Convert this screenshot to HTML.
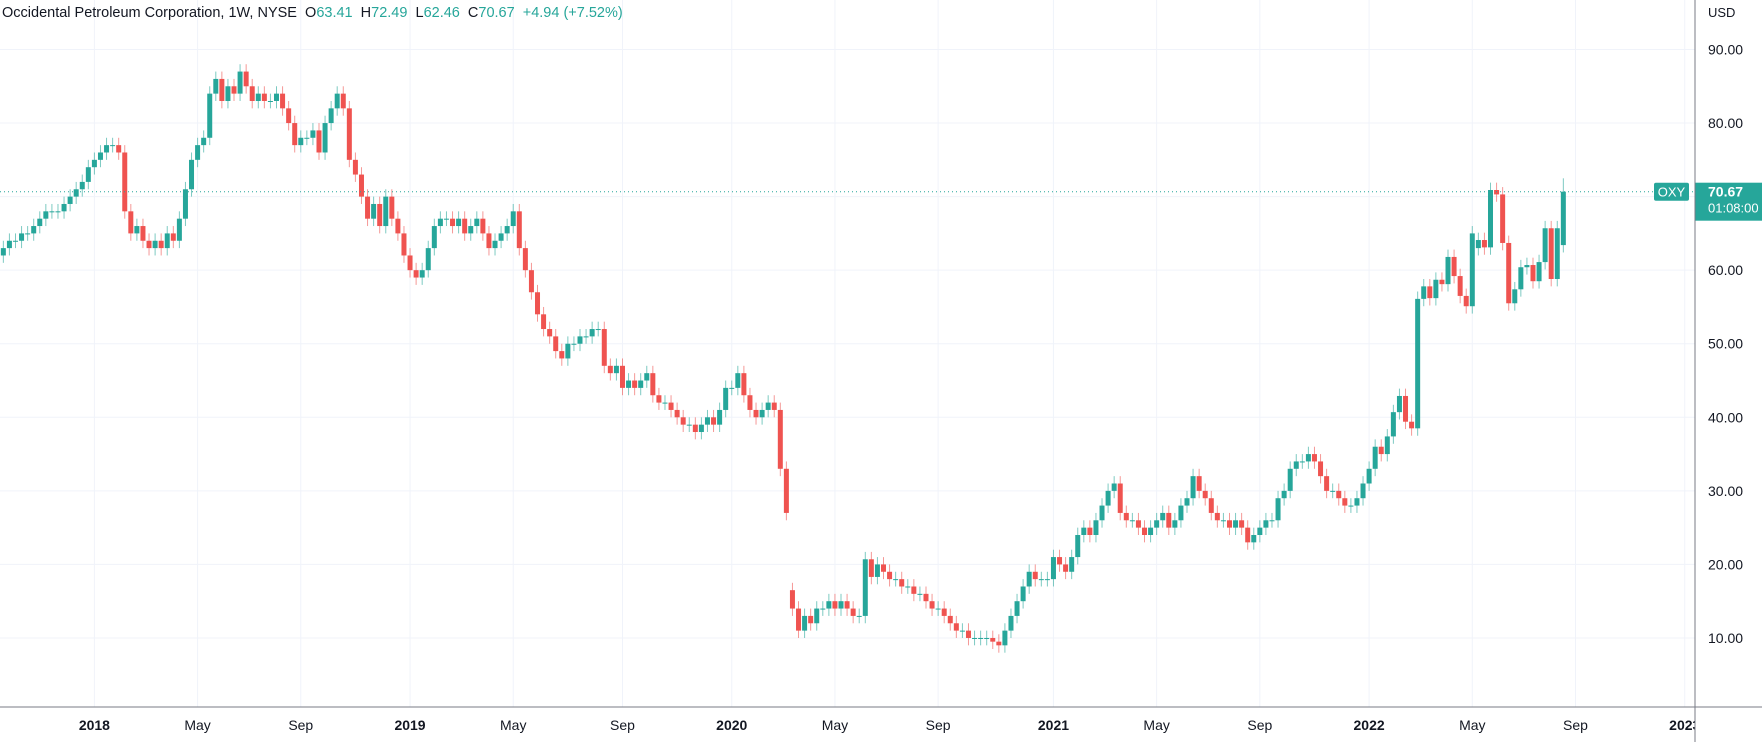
<!DOCTYPE html>
<html><head><meta charset="utf-8"><style>
html,body{margin:0;padding:0;background:#fff;}
body{width:1762px;height:742px;overflow:hidden;position:relative;font-family:"Liberation Sans","DejaVu Sans",sans-serif;}
#title{position:absolute;left:2px;top:5px;font-size:14.5px;color:#131722;white-space:nowrap;}
#title .v{color:#26a69a;}
</style></head><body>
<svg id="chart" width="1762" height="742" style="position:absolute;left:0;top:0"><defs><clipPath id="plotclip"><rect x="0" y="0" width="1695" height="742"/></clipPath></defs></svg>
<div id="title">Occidental Petroleum Corporation, 1W, NYSE&nbsp; O<span class="v">63.41</span>&nbsp; H<span class="v">72.49</span>&nbsp; L<span class="v">62.46</span>&nbsp; C<span class="v">70.67</span>&nbsp; <span class="v">+4.94 (+7.52%)</span></div>
<script>
const closes2017=[62,63,64,64,65,65,66,67,68,68,68,69,70,71,72,74];
const closes2018=[75,76,77,77,76,68,65,66,64,63,64,63,65,64,67,71,75,77,78,84,86,83,85,84,87,85,83,84,83,83,84,82,80,77,78,78,79,76,80,82,84,82,75,73,70,67,69,66,70,67,65,62];
const closes2019=[60,59,60,63,66,67,67,66,67,65,66,67,65,63,64,65,66,68,63,60,57,54,52,51,49,48,50,50,51,51,52,52,47,46,47,44,45,44,45,46,43,42,42,41,40,39,39,38,39,40,39,41,44];
const closes2020=[44,46,43,41,40,41,42,41,33,27,14,11,13,12,14,14,15,14,15,14,13,13,20.7,18.3,20,19,18,18,17,17,16,16,15,14,14,13,12,11,11,10,10,10,10,9.5,9,11,13,15,17,19,18,18,18];
const closes2021=[21,20,19,21,24,25,24,26,28,30,31,27,26,26,25,24,25,26,27,25,26,28,29,32,30,29,27,26,26,25,26,25,23,24,25,26,26,29,30,33,34,34,35,34,32,30,30,29,28,28,29,31];
const closes2022=[33,36,35,37.4,40.7,42.9,39.4,38.5,56.1,57.8,56.2,58.7,58.1,61.8,59.2,56.5,55.1,65,64.1,63.1,70.9,70.3,63.7,55.5,57.4,60.4,60.7,58.5,61.1,65.7,58.8,65.7,70.67];
const openOverrides={131:16.5,244:63,258:63.41};
const highOverrides={258:72.49};
const priceTicks=[10,20,30,40,50,60,70,80,90];
const timeLabels=["Sep","2018","May","Sep","2019","May","Sep","2020","May","Sep","2021","May","Sep","2022","May","Sep","2023"];
const timeWeeks=[-2,16,33,50,68,85,103,121,138,155,174,191,208,226,243,260,278];
const closes=[].concat(closes2017,closes2018,closes2019,closes2020,closes2021,closes2022);

const NS="http://www.w3.org/2000/svg";
const svg=document.getElementById('chart');
const AX=1695, AY=707;
function py(p){return 49.5+(90-p)*7.356;}
function px(i){return 94.4+(i-16)*6.07;}
function mk(tag,attrs,parent){const e=document.createElementNS(NS,tag);for(const k in attrs)e.setAttribute(k,attrs[k]);(parent||svg).appendChild(e);return e;}

const grid=mk('g',{});


const tl=mk('g',{'clip-path':'url(#plotclip)'});


priceTicks.forEach(p=>{
  const l=mk('line',{x1:0,x2:AX,y1:py(p),y2:py(p),stroke:'#f0f3fa','stroke-width':1},grid);
  
  
  const t=mk('text',{x:1708,y:py(p)+5,'font-size':14,fill:'#131722'});
  t.textContent=p.toFixed(2);
  
  
});
timeLabels.forEach((lab,k)=>{
  const x=px(timeWeeks[k]);
  const l=mk('line',{x1:x,x2:x,y1:0,y2:AY,stroke:'#f0f3fa','stroke-width':1},grid);
  
  
  const bold=/^\d+$/.test(lab);
  const t=mk('text',{x:x,y:730,'font-size':14,fill:'#131722','text-anchor':'middle','font-weight':bold?'bold':'normal'},tl);
  t.textContent=lab;
  
  
});
const usd=mk('text',{x:1708,y:17,'font-size':13,fill:'#131722'});
usd.textContent='USD';



const candles=mk('g',{});


closes.forEach((c,i)=>{
  const o=(i in openOverrides)?openOverrides[i]:(i>0?closes[i-1]:c-1);
  const up=c>=o;
  const col=up?'#26a69a':'#ef5350';
  const hi=(i in highOverrides)?highOverrides[i]:Math.max(o,c)+1;
  const lo=Math.min(o,c)-1;
  const x=px(i);
  const w=mk('line',{x1:x,x2:x,y1:py(hi),y2:py(lo),stroke:col,'stroke-opacity':0.6,'stroke-width':1},candles);
  
  
  const top=py(Math.max(o,c)),bot=py(Math.min(o,c));
  const b=mk('rect',{x:x-2.5,y:top,width:5,height:Math.max(1,bot-top),fill:col},candles);
  
  
});

const last=closes[closes.length-1];
const ly=py(last);
const pl=mk('line',{x1:0,x2:AX,y1:ly,y2:ly,stroke:'#26a69a','stroke-width':1,'stroke-dasharray':'1,3'});


const ob=mk('rect',{x:1654,y:ly-9,width:35,height:18,rx:2,fill:'#26a69a'});


const ot=mk('text',{x:1671.5,y:ly+5,'font-size':13,fill:'#fff','text-anchor':'middle'});
ot.textContent='OXY';


const pb=mk('rect',{x:AX,y:ly-9,width:67,height:38,fill:'#26a69a'});


const pt=mk('text',{x:1708,y:ly+5,'font-size':14,'font-weight':'bold',fill:'#fff'});
pt.textContent=last.toFixed(2);


const ct=mk('text',{x:1708,y:ly+21,'font-size':13,fill:'#fff'});
ct.textContent='01:08:00';



const a1=mk('line',{x1:AX,x2:AX,y1:0,y2:742,stroke:'#787b86','stroke-width':1});


const a2=mk('line',{x1:0,x2:1762,y1:AY,y2:AY,stroke:'#787b86','stroke-width':1});


</script>
</body></html>
